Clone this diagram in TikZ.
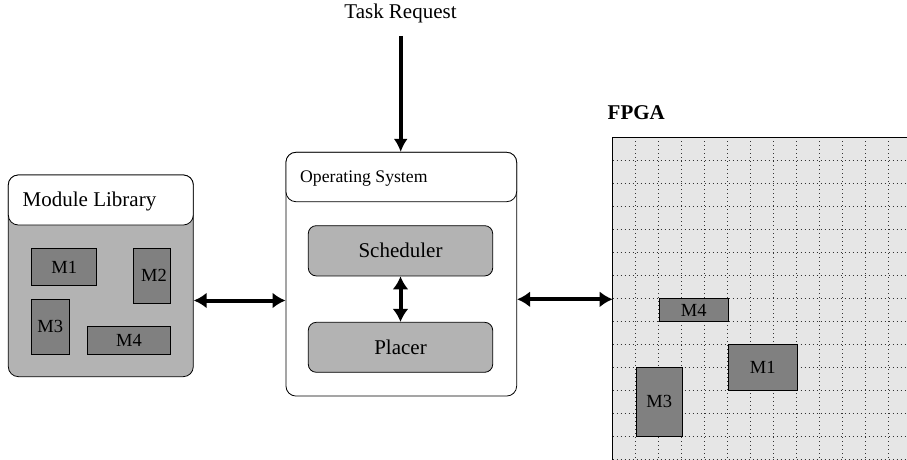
\documentclass[tikz,border=0pt]{standalone}
\usepackage{fontspec}
\setmainfont{Liberation Serif}
\usetikzlibrary{arrows.meta}
\definecolor{libgray}{RGB}{179,179,179}
\definecolor{modgray}{RGB}{128,128,128}
\definecolor{fpgabg}{RGB}{230,230,230}
\tikzset{
  outerbox/.style={draw=black, line width=0.8pt, rounded corners=10pt, inner sep=0pt},
  headbox/.style={draw=black, fill=white, line width=0.8pt, rounded corners=10pt, inner sep=0pt},
  innerbox/.style={draw=black, fill=libgray, line width=0.8pt, rounded corners=8pt, inner sep=0pt, font=\fontsize{21}{24}\selectfont},
  modbox/.style={draw=black, fill=modgray, line width=0.8pt, inner sep=0pt, font=\fontsize{18.5}{20}\selectfont},
  bigtext/.style={inner sep=0pt, font=\fontsize{21}{24}\selectfont},
  thickarrow/.style={line width=4pt, {Latex[length=13pt,width=16pt]}-{Latex[length=13pt,width=16pt]}},
  downarrow/.style={line width=4.2pt, -{Latex[length=13pt,width=14pt]}},
  griddot/.style={line width=1pt, dash pattern=on 1pt off 3pt, black!80}
}
\begin{document}
\begin{tikzpicture}[x=1pt,y=-1pt]
\useasboundingbox (0,0) rectangle (907,460);

% Task request
\node[bigtext] (task) at (400.5,13) {Task Request};
\coordinate (tq) at (400.7,36);

% Module library
\node[outerbox, fill=libgray, minimum width=185pt, minimum height=201.7pt] (ml) at (100.8,275.8) {};
\node[headbox, minimum width=185pt, minimum height=50pt] (mlh) at (100.8,200) {};
\node[bigtext, anchor=west] (mltitle) at (22.5,201.5) {Module Library};
\node[modbox, minimum width=65pt, minimum height=37.4pt] (lm1) at (64.2,267) {M1};
\node[modbox, minimum width=37.4pt, minimum height=55pt] (lm2) at (152,275.8) {\hspace{4pt}M2};
\node[modbox, minimum width=37.3pt, minimum height=55pt] (lm3) at (50.3,326.5) {M3};
\node[modbox, minimum width=83.4pt, minimum height=27.3pt] (lm4) at (129,340.3) {M4};

% Operating system
\node[outerbox, fill=white, minimum width=230.7pt, minimum height=243.7pt] (os) at (401.3,274.2) {};
\node[headbox, minimum width=230.7pt, minimum height=49.4pt] (osh) at (401.3,177) {};
\node[inner sep=0pt, anchor=west, font=\fontsize{17.7}{20}\selectfont] (ostitle) at (300,178.5) {Operating System};
\node[innerbox, minimum width=184.4pt, minimum height=50.3pt] (sched) at (400.5,250.8) {Scheduler};
\node[innerbox, minimum width=184.4pt, minimum height=50pt] (placer) at (400.5,347.3) {Placer};

% FPGA
\node[inner sep=0pt, anchor=west, font=\fontsize{21}{24}\selectfont\bfseries] (fpgatitle) at (607.5,113) {FPGA};
\begin{scope}
\clip (0,0) rectangle (907,460);
\fill[fpgabg] (612.7,137.3) rectangle (920,470);
\foreach \i in {1,...,13} {
  \draw[griddot] (612.7+23*\i,137.3) -- (612.7+23*\i,460);
}
\foreach \j in {1,...,14} {
  \draw[griddot] (612.7,137.3+23*\j) -- (907,137.3+23*\j);
}
\draw[line width=1.4pt] (612.7,460) -- (612.7,137.3) -- (910,137.3);
\end{scope}
\coordinate (fpga) at (612.7,299.3);
\node[modbox, minimum width=69pt, minimum height=23pt] (fm4) at (693.7,310) {M4};
\node[modbox, minimum width=69pt, minimum height=46pt] (fm1) at (762.7,367.3) {M1};
\node[modbox, minimum width=46pt, minimum height=69pt] (fm3) at (659.2,401.8) {M3};

% Connectors
\draw[downarrow] (tq) -- (tq |- os.north);
\coordinate (ya) at (0,300.5);
\coordinate (yb) at (0,299.3);
\draw[thickarrow] (ml.east |- ya) -- (os.west |- ya);
\draw[thickarrow] (os.east |- yb) -- (fpga);
\draw[thickarrow] (sched.south) -- (placer.north);
\end{tikzpicture}
\end{document}
